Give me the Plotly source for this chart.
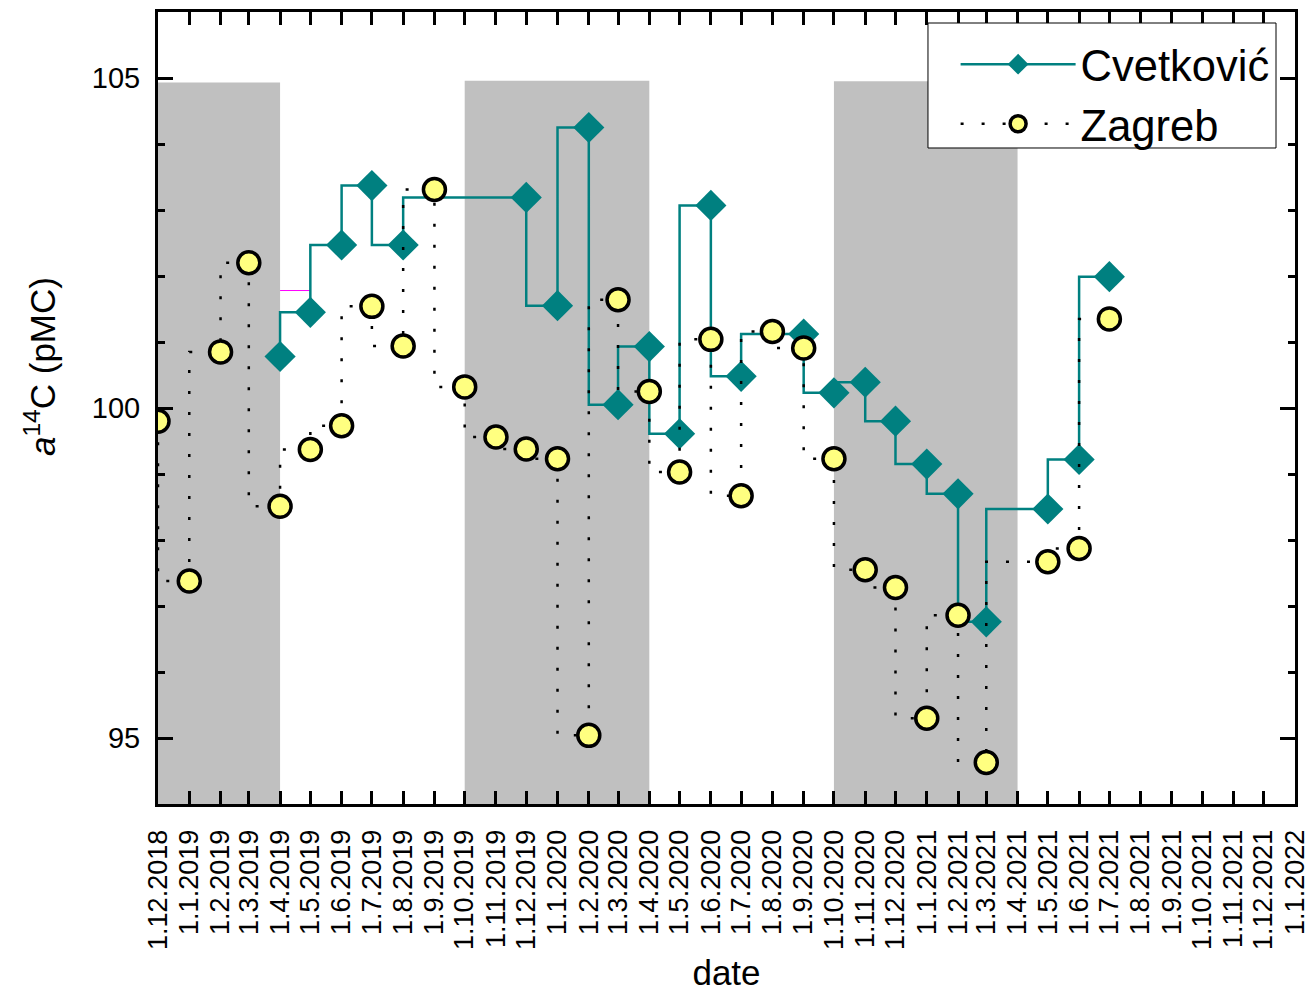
import plotly.graph_objects as go

# ---- data ----
zagreb_dates = ["2018-12-01", "2019-01-01", "2019-02-01", "2019-03-01", "2019-04-01", "2019-05-01",
                "2019-06-01", "2019-07-01", "2019-08-01", "2019-09-01", "2019-10-01", "2019-11-01",
                "2019-12-01", "2020-01-01", "2020-02-01", "2020-03-01", "2020-04-01", "2020-05-01",
                "2020-06-01", "2020-07-01", "2020-08-01", "2020-09-01", "2020-10-01", "2020-11-01",
                "2020-12-01", "2021-01-01", "2021-02-01", "2021-03-01", "2021-05-01", "2021-06-01",
                "2021-07-01"]
zagreb_vals = [99.80, 97.38, 100.85, 102.20, 98.51, 99.37,
               99.73, 101.54, 100.94, 103.31, 100.32, 99.56,
               99.38, 99.23, 95.04, 101.64, 100.25, 99.03,
               101.04, 98.67, 101.16, 100.91, 99.23, 97.55,
               97.28, 95.30, 96.86, 94.63, 97.67, 97.87,
               101.35]

cvet_dates = ["2019-04-01", "2019-05-01", "2019-06-01", "2019-07-01", "2019-08-01",
              "2019-12-01", "2020-01-01", "2020-02-01", "2020-03-01", "2020-04-01",
              "2020-05-01", "2020-06-01", "2020-07-01", "2020-09-01", "2020-10-01",
              "2020-11-01", "2020-12-01", "2021-01-01", "2021-02-01", "2021-03-01",
              "2021-05-01", "2021-06-01", "2021-07-01"]
cvet_vals = [100.78, 101.45, 102.47, 103.37, 102.47,
             103.19, 101.55, 104.25, 100.05, 100.93,
             99.61, 103.07, 100.48, 101.12, 100.23,
             100.39, 99.80, 99.15, 98.70, 96.76,
             98.47, 99.22, 101.99]

# heating seasons (shaded)
shade_starts = ["2018-12-01", "2019-10-01", "2020-10-01"]
shade_ends = ["2019-04-01", "2020-04-01", "2021-04-01"]
shade_tops = [104.93, 104.96, 104.95]

# small magenta segment seen in the original
magenta_x = ["2019-04-01", "2019-05-01"]
magenta_y = [101.78, 101.78]

y_range = [94, 106]
x_range = ["2018-12-01", "2022-01-01"]

y_title = "<i>a</i><sup>14</sup>C (pMC)"
x_title = "date"

FONT = "Liberation Sans, Arial, sans-serif"

fig = go.Figure()

fig.add_trace(go.Scatter(
    x=magenta_x, y=magenta_y, mode="lines",
    line=dict(color="#FF00FF", width=1), showlegend=False, hoverinfo="skip"))

fig.add_trace(go.Scatter(
    x=cvet_dates, y=cvet_vals, name="Cvetković", mode="lines+markers",
    line=dict(color="#008080", width=2.5, shape="vh"),
    marker=dict(symbol="diamond", size=24, color="#008080")))

fig.add_trace(go.Scatter(
    x=zagreb_dates, y=zagreb_vals, name="Zagreb", mode="lines+markers",
    line=dict(color="black", width=2.5, shape="vh", dash="3px,18px"),
    marker=dict(symbol="circle", size=22, color="#FFFF80",
                line=dict(color="black", width=3.5))))

for s, e, t in zip(shade_starts, shade_ends, shade_tops):
    fig.add_shape(type="rect", xref="x", yref="y", x0=s, x1=e, y0=y_range[0], y1=t,
                  fillcolor="#C0C0C0", line=dict(width=0), layer="below")

# legend frame
fig.add_shape(type="rect", xref="paper", yref="paper",
              x0=0.6772, x1=0.9833, y0=0.8283, y1=0.9861,
              fillcolor="white", line=dict(color="black", width=1), layer="above")

# y-axis title (placed like the original, above the axis centre)
fig.add_annotation(text=y_title, xref="paper", yref="paper", x=-0.1038, y=0.553,
                   xanchor="center", yanchor="middle", textangle=-90, showarrow=False,
                   font=dict(size=35, family=FONT, color="black"))

fig.update_layout(
    width=1307, height=992,
    margin=dict(l=158, r=12, t=12, b=188),
    paper_bgcolor="white", plot_bgcolor="white",
    font=dict(family=FONT, color="black"),
    legend=dict(x=0.7015, y=0.978, xanchor="left", yanchor="top",
                borderwidth=0, bgcolor="rgba(0,0,0,0)",
                font=dict(size=43.5, family=FONT), itemwidth=115,
                tracegroupgap=0),
)

fig.update_xaxes(
    type="date", range=x_range, dtick="M1", tick0="2018-12-01",
    tickformat="1.%-m.%Y", tickangle=-90,
    ticks="inside", ticklen=13, tickwidth=3, tickcolor="black",
    showline=True, linewidth=3, linecolor="black", mirror="ticks",
    showgrid=False, zeroline=False, automargin=False,
    ticklabelstandoff=12, ticklabeloverflow="allow",
    tickfont=dict(size=27, family=FONT),
    title=dict(text=x_title, font=dict(size=35, family=FONT), standoff=13),
)

fig.update_yaxes(
    range=y_range, tick0=95, dtick=5,
    ticks="inside", ticklen=15, tickwidth=3, tickcolor="black",
    minor=dict(ticks="inside", dtick=1, tick0=94, ticklen=7, tickwidth=3, tickcolor="black",
               showgrid=False),
    showline=True, linewidth=3, linecolor="black", mirror="ticks",
    showgrid=False, zeroline=False, automargin=False,
    ticklabelstandoff=9,
    tickfont=dict(size=29, family=FONT),
)

# remove the default page margin so the 1307x992 figure fills the window exactly
fig.write_html("out.html",
               config={"displayModeBar": False},
               post_script="document.body.style.margin='0';document.body.style.overflow='hidden';")
